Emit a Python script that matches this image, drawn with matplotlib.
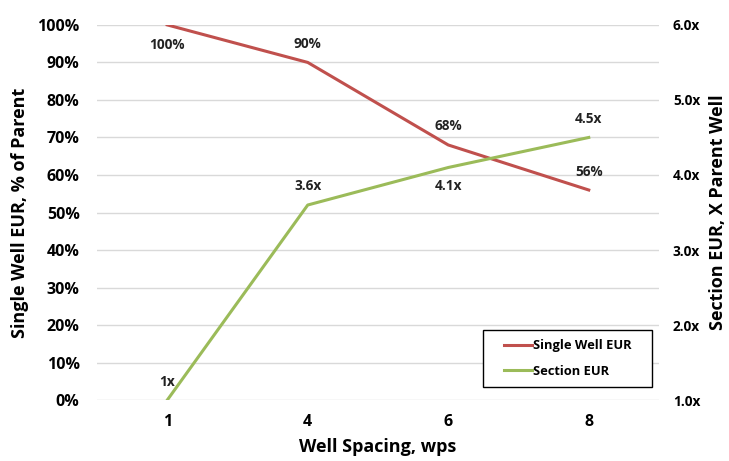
import matplotlib
matplotlib.use("Agg")
import matplotlib.pyplot as plt
from matplotlib.patches import Rectangle
import numpy as np

# Well spacing categories and EUR results
spacing = ["1", "4", "6", "8"]
single_well_eur = [100, 90, 68, 56]        # % of parent
section_eur = [1.0, 3.6, 4.1, 4.5]         # x parent well
single_labels = ["100%", "90%", "68%", "56%"]
section_labels = ["1x", "3.6x", "4.1x", "4.5x"]

RED = "#C0504D"
GREEN = "#9BBB59"
FONT = "Open Sans"

plt.rcParams["font.family"] = [FONT, "DejaVu Sans"]
plt.rcParams["font.weight"] = "bold"

fig = plt.figure(figsize=(7.29, 4.61), dpi=100)
ax = fig.add_axes([0.133, 0.132, 0.771, 0.814])
ax2 = ax.twinx()

x = np.arange(len(spacing))

ax.plot(x, single_well_eur, color=RED, lw=2.2, label="Single Well EUR", zorder=3)
ax2.plot(x, section_eur, color=GREEN, lw=2.2, label="Section EUR", zorder=3)

ax.set_xlim(-0.5, len(spacing) - 0.5)
ax.set_ylim(0, 100)
ax2.set_ylim(1, 6)

ax.set_yticks(np.arange(0, 101, 10))
ax.set_yticklabels([f"{v}%" for v in range(0, 101, 10)])
ax2.set_yticks(np.arange(1, 7, 1))
ax2.set_yticklabels([f"{v:.1f}x" for v in range(1, 7)])
ax.set_xticks(x)
ax.set_xticklabels(spacing)

ax.grid(axis="y", color="#D9D9D9", lw=1)
ax.set_axisbelow(True)
for a in (ax, ax2):
    for s in a.spines.values():
        s.set_visible(False)
    a.tick_params(length=0)

ax.tick_params(axis="y", labelsize=11.5, pad=12.5)
ax.tick_params(axis="x", labelsize=11.5, pad=10)
ax2.tick_params(axis="y", labelsize=9.8, pad=10)

ax.set_xlabel("Well Spacing, wps", fontsize=13, fontweight="bold", labelpad=6)
ax.set_ylabel("Single Well EUR, % of Parent", fontsize=13, fontweight="bold", labelpad=6)
ax2.set_ylabel("Section EUR, X Parent Well", fontsize=13, fontweight="bold", labelpad=6)

# data labels: offset in points, above (+) or below (-) each point
single_offsets = [-14.5, 13.5, 13.5, 13]
section_offsets = [13, 13.5, -13.5, 13.5]
for xi, v, lab, dy in zip(x, single_well_eur, single_labels, single_offsets):
    ax.annotate(lab, (xi, v), xytext=(0, dy), textcoords="offset points",
                ha="center", va="center", fontsize=9.8, fontweight="bold", color="#222222")
for xi, v, lab, dy in zip(x, section_eur, section_labels, section_offsets):
    ax2.annotate(lab, (xi, v), xytext=(0, dy), textcoords="offset points",
                 ha="center", va="center", fontsize=9.8, fontweight="bold", color="#222222")

# legend box drawn separately so the padding can be wider than tall
box = (0.687, 0.035, 0.3005, 0.152)
ax2.add_patch(Rectangle(box[:2], box[2], box[3], transform=ax2.transAxes,
                        facecolor="white", edgecolor="black", lw=1, zorder=4))
h1, l1 = ax.get_legend_handles_labels()
h2, l2 = ax2.get_legend_handles_labels()
leg = ax2.legend(h1 + h2, l1 + l2, loc="center",
                 bbox_to_anchor=(box[0] + box[2] / 2, box[1] + box[3] / 2),
                 frameon=False, handlelength=2.2,
                 handletextpad=0.05, borderpad=0.0, labelspacing=1.0,
                 prop={"family": [FONT], "weight": "bold", "size": 9.3})
leg.set_zorder(5)

fig.savefig("out.png", dpi=100)
